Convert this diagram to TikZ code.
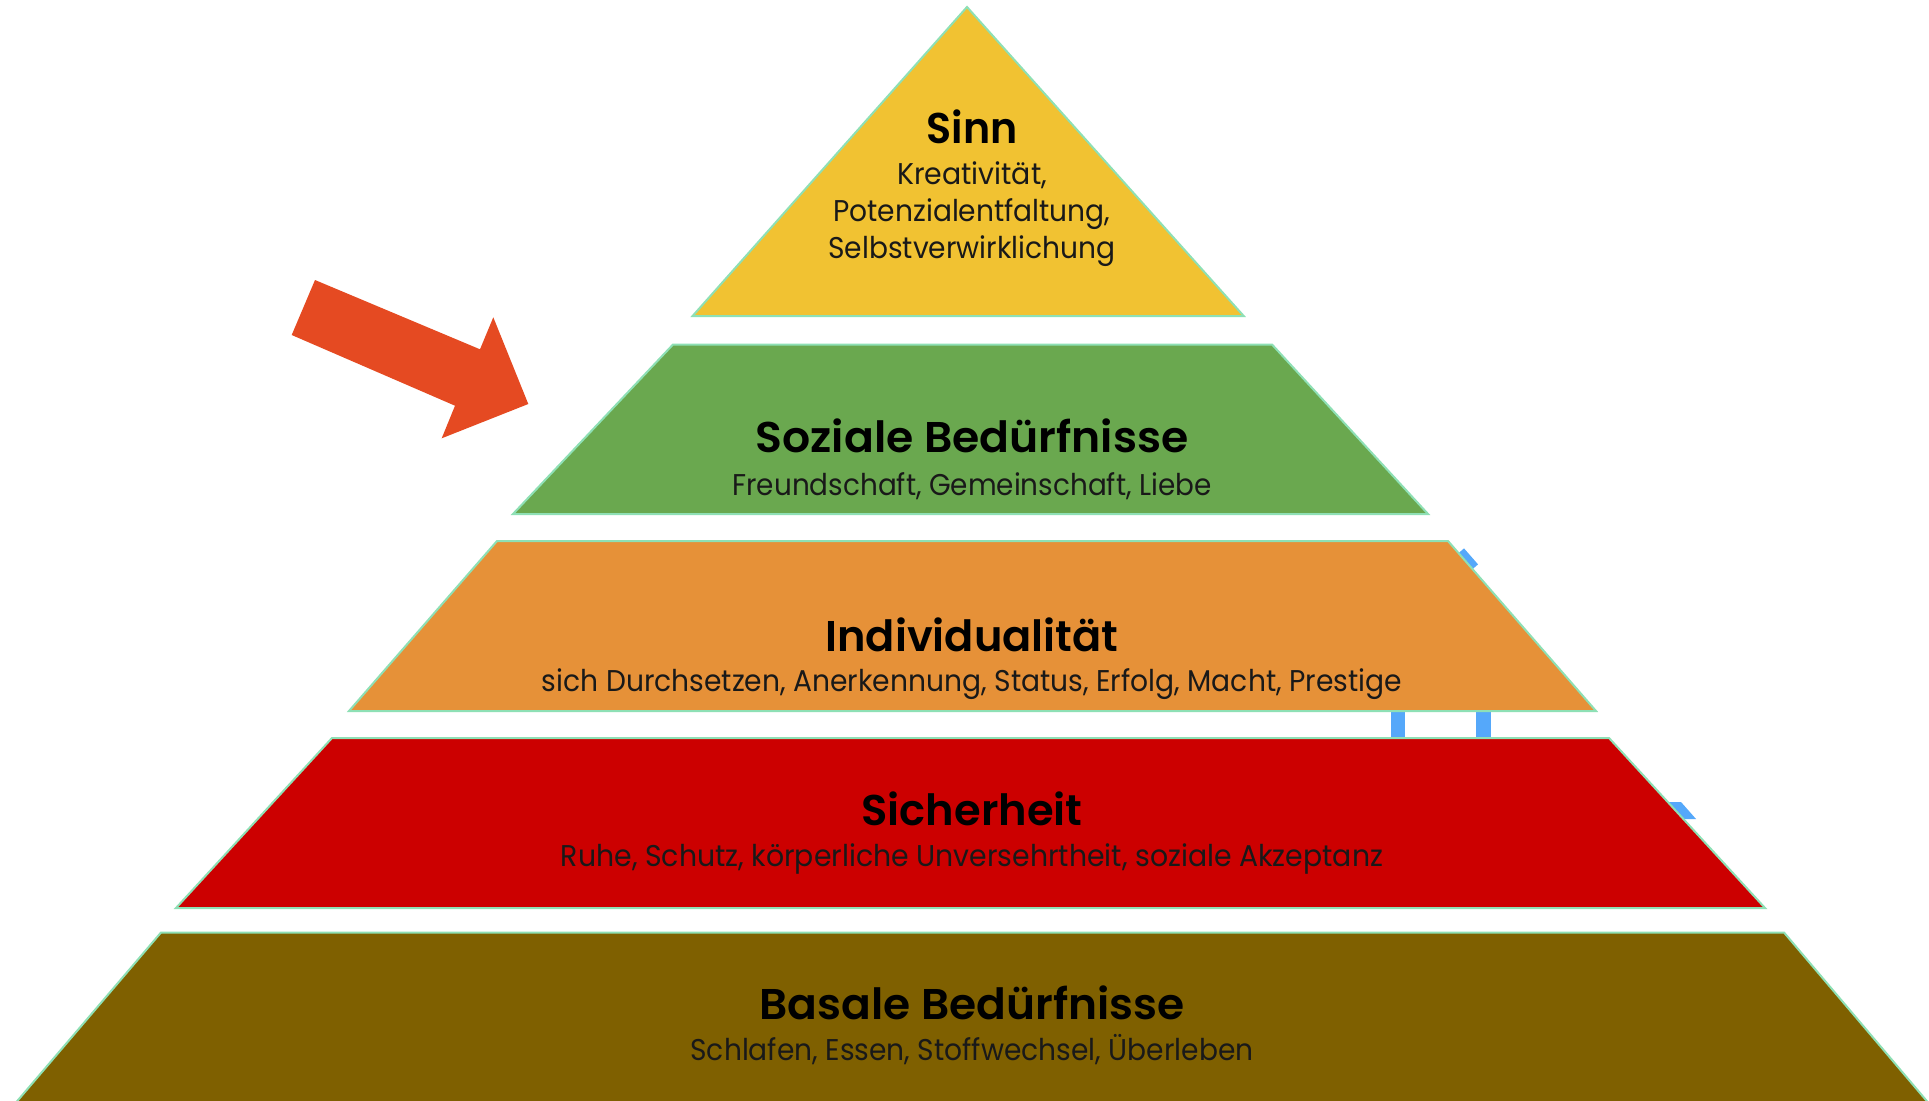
\documentclass[tikz,border=0pt]{standalone}
\usepackage{fontspec}
\setmainfont{Poppins}[UprightFont=*, BoldFont=* SemiBold]
\usepackage{graphicx}
\definecolor{cyel}{HTML}{F1C232}
\definecolor{cgrn}{HTML}{6AA84F}
\definecolor{corg}{HTML}{E69138}
\definecolor{cred}{HTML}{CC0000}
\definecolor{colv}{HTML}{7F6000}
\definecolor{carrow}{HTML}{E54A22}
\definecolor{cmint}{HTML}{8EE0B5}
\definecolor{cblue}{HTML}{55A8FA}
\newcommand\fitto[2]{\resizebox{#1}{\height}{#2}}
\begin{document}
\begin{tikzpicture}[x=1pt,y=-1pt,
  layer/.style={draw=cmint, line width=2pt, line join=miter},
  ttl/.style={font=\fontsize{43}{50}\selectfont\bfseries, inner sep=0pt, text=black, anchor=base},
  sub/.style={font=\fontsize{30}{36}\selectfont, inner sep=0pt, text=black!90, anchor=base}]
\useasboundingbox (0,0) rectangle (1929,1100);
\fill[white] (0,0) rectangle (1929,1100);
% blue marks behind the layers
\draw[cblue, line width=8pt] (1461,551) -- (1475,567);
\fill[cblue] (1391,705) rectangle (1405,745);
\fill[cblue] (1476,705) rectangle (1491,745);
\fill[cblue] (1662,802) -- (1681,802) -- (1696,819) -- (1677,819) -- cycle;
% layers
\filldraw[layer, fill=cyel] (967,7) -- (1243.7,316) -- (692.6,316) -- cycle;
\filldraw[layer, fill=cgrn] (673,344.5) -- (1272,344.5) -- (1428,514) -- (513,514) -- cycle;
\filldraw[layer, fill=corg] (497,541) -- (1448,541) -- (1596,711) -- (349,711) -- cycle;
\filldraw[layer, fill=cred] (332,738) -- (1609,738) -- (1765,908) -- (176,908) -- cycle;
\filldraw[layer, fill=colv] (161,932.5) -- (1784,932.5) -- (1931,1106) -- (13,1106) -- cycle;
% arrow
\fill[carrow] (315,280) -- (480,349.3) -- (493.3,317.3) -- (528.3,404) -- (441.7,438.3) -- (455,405.7) -- (291.7,335) -- cycle;
% texts
\node[ttl] (sinn) at (972,143) {\fitto{91pt}{Sinn}};
\node[sub] (sinn1) at (972,184) {\fitto{150pt}{Kreativität,}};
\node[sub] (sinn2) at (972,221) {\fitto{277pt}{Potenzialentfaltung,}};
\node[sub] (sinn3) at (972,258) {\fitto{287pt}{Selbstverwirklichung}};
\node[ttl] (soz) at (972,452.5) {\fitto{433pt}{Soziale Bedürfnisse}};
\node[sub] (soz1) at (972,495) {\fitto{479pt}{Freundschaft, Gemeinschaft, Liebe}};
\node[ttl] (ind) at (972,651) {\fitto{293pt}{Individualität}};
\node[sub] (ind1) at (972,691) {\fitto{860pt}{sich Durchsetzen, Anerkennung, Status, Erfolg, Macht, Prestige}};
\node[ttl] (sich) at (972,825.5) {\fitto{221pt}{Sicherheit}};
\node[sub] (sich1) at (972,866) {\fitto{822pt}{Ruhe, Schutz, körperliche Unversehrtheit, soziale Akzeptanz}};
\node[ttl] (bas) at (972,1019.5) {\fitto{425pt}{Basale Bedürfnisse}};
\node[sub] (bas1) at (972,1060.5) {\fitto{563pt}{Schlafen, Essen, Stoffwechsel, Überleben}};
\end{tikzpicture}
\end{document}
